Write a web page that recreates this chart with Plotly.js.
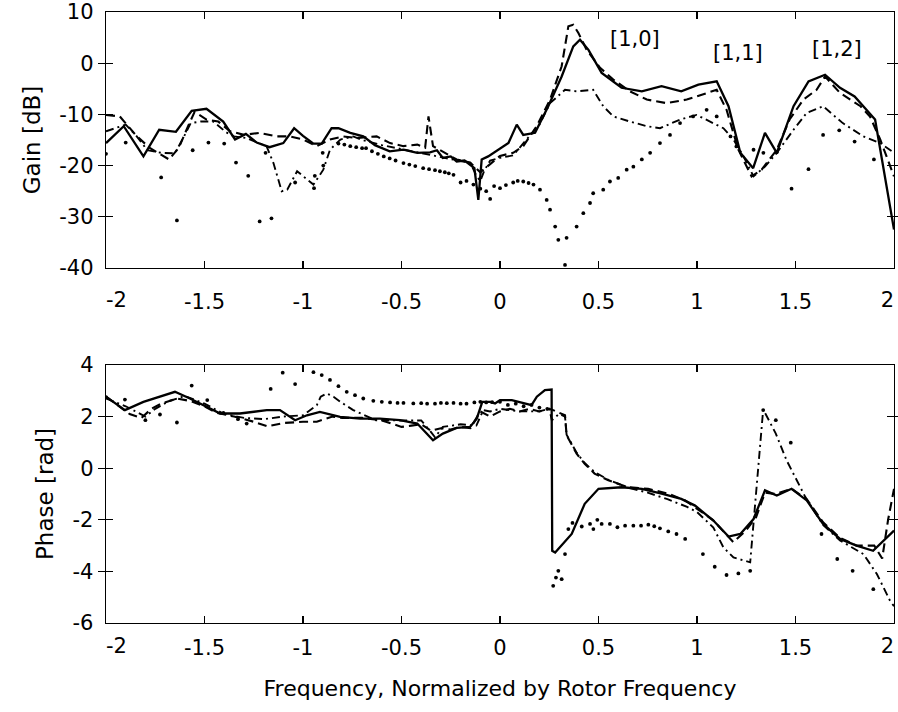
<!DOCTYPE html>
<html>
<head>
<meta charset="utf-8">
<script src="https://cdn.plot.ly/plotly-3.0.1.min.js"></script>
<style>html,body{margin:0;padding:0;background:#fff;}#chart{width:898px;height:712px;}</style>
</head>
<body>
<div id="chart"></div>
<script>
// ---------- Gain (top panel) ----------
const gainSolidX = [-2.0,-1.91,-1.81,-1.73,-1.645,-1.565,-1.49,-1.405,-1.345,-1.29,-1.235,-1.17,-1.10,-1.045,-1.0,-0.947,-0.905,-0.855,-0.82,-0.76,-0.694,-0.635,-0.56,-0.49,-0.42,-0.355,-0.32,-0.29,-0.25,-0.22,-0.18,-0.15,-0.13,-0.11,-0.093,-0.06,-0.025,0.025,0.043,0.085,0.118,0.178,0.245,0.313,0.372,0.406,0.449,0.516,0.617,0.72,0.82,0.92,1.007,1.10,1.16,1.22,1.285,1.345,1.405,1.49,1.566,1.65,1.726,1.80,1.904,2.0];
const gainSolidY = [-15.6,-12.3,-18.2,-13.0,-13.4,-9.3,-8.9,-11.4,-14.9,-13.8,-15.5,-16.4,-15.6,-12.7,-14.2,-15.7,-15.7,-12.7,-12.7,-13.6,-14.3,-16.0,-17.2,-16.9,-17.5,-17.4,-17.0,-18.5,-18.2,-19.2,-19.0,-19.8,-20.5,-26.7,-18.8,-18.2,-17.3,-16.1,-15.6,-12.0,-14.0,-13.6,-8.4,-2.6,3.3,4.6,2.6,-1.9,-4.8,-5.5,-4.5,-5.5,-4.2,-3.55,-8.4,-17.5,-20.5,-13.6,-17.5,-8.4,-3.55,-2.25,-4.8,-6.5,-11.0,-32.5];

const gainDashX = [-2.0,-1.93,-1.85,-1.78,-1.68,-1.63,-1.58,-1.55,-1.49,-1.43,-1.37,-1.30,-1.22,-1.134,-1.066,-1.0,-0.93,-0.863,-0.796,-0.728,-0.626,-0.558,-0.49,-0.42,-0.38,-0.363,-0.34,-0.29,-0.22,-0.152,-0.1,-0.05,0.0,0.067,0.118,0.186,0.254,0.313,0.347,0.372,0.398,0.44,0.508,0.575,0.66,0.745,0.846,0.948,1.015,1.10,1.15,1.21,1.277,1.328,1.405,1.47,1.54,1.607,1.65,1.726,1.83,1.878,1.93,2.0];
const gainDashY = [-10.1,-10.4,-14.0,-16.5,-18.8,-16.5,-12.0,-9.5,-11.0,-11.4,-13.3,-14.0,-13.6,-14.3,-14.3,-14.9,-16.2,-14.9,-14.3,-14.6,-14.3,-15.6,-16.2,-15.9,-16.5,-10.4,-16.2,-17.3,-18.8,-19.4,-21.3,-19.7,-18.1,-17.5,-16.2,-12.3,-7.1,-0.6,7.2,7.5,5.9,2.6,-0.9,-3.2,-5.5,-7.1,-7.8,-7.1,-6.2,-5.2,-9.1,-16.9,-22.1,-20.8,-16.9,-11.0,-7.1,-5.2,-2.6,-5.8,-8.4,-10.4,-14.9,-22.1];

const gainDashDotX = [-2.0,-1.9,-1.85,-1.79,-1.72,-1.65,-1.6,-1.57,-1.52,-1.455,-1.39,-1.35,-1.29,-1.185,-1.15,-1.108,-1.08,-1.03,-0.947,-0.897,-0.863,-0.81,-0.745,-0.7,-0.6,-0.5,-0.4,-0.3,-0.2,-0.15,-0.12,-0.1,-0.08,-0.05,0.0,0.067,0.135,0.2,0.254,0.33,0.389,0.473,0.524,0.575,0.66,0.745,0.812,0.914,0.998,1.066,1.134,1.185,1.236,1.287,1.345,1.405,1.49,1.557,1.64,1.74,1.845,1.93,2.0];
const gainDashDotY = [-13.3,-12.0,-14.0,-17.0,-17.5,-17.6,-14.0,-11.7,-11.4,-11.4,-13.5,-14.3,-14.6,-16.2,-19.5,-25.0,-24.7,-21.1,-23.7,-20.8,-16.9,-14.9,-14.3,-15.0,-16.0,-16.8,-17.5,-18.3,-19.2,-19.5,-22.0,-23.0,-21.0,-19.0,-18.5,-18.0,-14.9,-12.0,-7.8,-5.2,-5.5,-5.2,-8.4,-10.4,-11.4,-12.3,-12.7,-11.0,-10.1,-11.4,-12.7,-14.9,-18.2,-22.1,-20.2,-17.5,-13.0,-9.7,-8.4,-11.7,-14.3,-15.6,-17.5];

const gainDotX = [-2.0,-1.9,-1.72,-1.64,-1.56,-1.48,-1.40,-1.34,-1.278,-1.22,-1.19,-1.16,-1.04,-0.944,-0.94,-0.897,-0.9,-0.82,-0.79,-0.76,-0.73,-0.70,-0.68,-0.65,-0.62,-0.59,-0.56,-0.53,-0.49,-0.46,-0.43,-0.39,-0.36,-0.33,-0.305,-0.28,-0.26,-0.236,-0.2,-0.17,-0.135,-0.1,-0.07,-0.05,-0.03,0.0,0.03,0.067,0.09,0.118,0.145,0.17,0.203,0.237,0.254,0.28,0.296,0.33,0.338,0.389,0.423,0.457,0.473,0.524,0.558,0.6,0.643,0.677,0.72,0.762,0.812,0.863,0.914,0.98,1.049,1.1,1.17,1.2,1.287,1.337,1.405,1.48,1.566,1.64,1.722,1.80,1.898];
const gainDotY = [-17.7,-15.5,-22.3,-30.7,-17.0,-15.5,-15.7,-19.4,-22.0,-30.9,-17.5,-30.3,-23.3,-24.4,-22.0,-20.0,-17.5,-15.7,-15.9,-16.2,-16.4,-16.6,-16.6,-17.2,-17.7,-18.2,-18.6,-19.0,-19.5,-19.8,-20.1,-20.5,-20.7,-20.9,-21.1,-21.3,-21.5,-21.8,-23.3,-23.0,-23.7,-24.5,-25.0,-26.5,-24.0,-24.4,-23.8,-23.3,-23.0,-23.1,-23.4,-23.7,-24.7,-26.7,-28.6,-31.9,-34.5,-39.4,-34.1,-31.9,-29.3,-27.3,-25.4,-24.7,-23.1,-22.4,-20.8,-20.2,-18.8,-17.5,-15.6,-14.0,-11.7,-10.4,-9.1,-10.4,-14.3,-16.25,-16.9,-17.5,-17.4,-24.5,-20.7,-14.0,-13.1,-15.3,-18.8];

// ---------- Phase (bottom panel) ----------
const phaseSolidX = [-2.0,-1.904,-1.81,-1.71,-1.65,-1.574,-1.49,-1.42,-1.32,-1.184,-1.117,-1.04,-0.98,-0.914,-0.812,-0.71,-0.61,-0.508,-0.42,-0.37,-0.34,-0.29,-0.22,-0.152,-0.118,-0.09,-0.05,-0.025,0.0,0.06,0.16,0.187,0.228,0.262,0.265,0.28,0.364,0.43,0.5,0.617,0.72,0.82,0.92,0.99,1.083,1.16,1.22,1.287,1.345,1.405,1.48,1.557,1.64,1.726,1.81,1.894,1.946,2.0];
const phaseSolidY = [2.77,2.25,2.57,2.83,2.96,2.7,2.38,2.12,2.12,2.25,2.25,1.86,2.05,2.18,1.99,1.92,1.92,1.86,1.73,1.34,1.08,1.34,1.56,1.6,1.92,2.57,2.57,2.51,2.64,2.64,2.44,2.77,3.03,3.05,-3.2,-3.27,-2.55,-1.38,-0.8,-0.74,-0.8,-0.99,-1.19,-1.45,-2.03,-2.65,-2.55,-1.97,-0.86,-1.06,-0.8,-1.25,-2.16,-2.74,-3.0,-3.2,-2.81,-2.42];

const phaseDashX = [-2.0,-1.95,-1.88,-1.82,-1.77,-1.72,-1.64,-1.57,-1.5,-1.44,-1.35,-1.25,-1.18,-1.1,-1.0,-0.93,-0.85,-0.8,-0.7,-0.6,-0.5,-0.45,-0.4,-0.35,-0.3,-0.25,-0.2,-0.15,-0.1,-0.05,0.0,0.05,0.1,0.15,0.2,0.25,0.27,0.33,0.338,0.389,0.43,0.48,0.55,0.651,0.752,0.854,0.94,1.08,1.15,1.185,1.25,1.3,1.345,1.4,1.48,1.557,1.64,1.726,1.81,1.9,1.94,1.97,2.0];
const phaseDashY = [2.77,2.5,2.1,1.95,2.3,2.5,2.7,2.6,2.4,2.15,2.0,1.8,1.62,1.75,1.8,1.8,2.0,1.95,1.95,1.85,1.6,1.65,1.7,1.45,1.55,1.5,1.6,1.55,2.2,2.0,2.2,2.3,2.2,2.3,2.2,2.3,2.25,2.05,1.28,0.56,0.17,-0.21,-0.47,-0.74,-0.8,-0.99,-1.25,-2.0,-2.6,-2.87,-2.4,-1.9,-0.95,-1.0,-0.8,-1.2,-2.1,-2.7,-3.0,-3.0,-3.5,-2.0,-0.8];

const phaseDashDotX = [-2.0,-1.9,-1.85,-1.8,-1.75,-1.68,-1.6,-1.5,-1.4,-1.3,-1.2,-1.1,-1.0,-0.93,-0.91,-0.88,-0.845,-0.81,-0.745,-0.69,-0.63,-0.5,-0.4,-0.35,-0.33,-0.29,-0.2,-0.12,-0.085,-0.05,0.0,0.1,0.2,0.25,0.263,0.3,0.33,0.338,0.389,0.43,0.48,0.55,0.65,0.75,0.85,0.95,1.0,1.083,1.134,1.185,1.27,1.336,1.4,1.455,1.506,1.55,1.64,1.726,1.845,1.913,1.98,2.0];
const phaseDashDotY = [2.7,2.4,2.2,2.0,2.3,2.6,2.8,2.5,2.1,1.95,1.9,2.0,2.05,2.44,2.77,2.9,2.77,2.57,2.25,2.05,1.86,1.85,1.85,1.4,1.2,1.6,1.7,1.65,2.25,2.2,2.3,2.2,2.2,2.3,1.86,2.1,2.0,1.3,0.6,0.2,-0.15,-0.45,-0.75,-0.95,-1.2,-1.5,-1.7,-2.3,-3.07,-3.46,-3.65,2.28,1.34,0.3,-0.47,-1.12,-2.2,-2.8,-3.33,-4.1,-5.14,-5.35];

const phaseDotX = [-2.0,-1.904,-1.8,-1.726,-1.64,-1.565,-1.486,-1.404,-1.33,-1.286,-1.164,-1.103,-1.04,-0.947,-0.905,-0.863,-0.82,-0.778,-0.736,-0.694,-0.643,-0.6,-0.558,-0.52,-0.49,-0.44,-0.4,-0.37,-0.33,-0.3,-0.27,-0.236,-0.2,-0.17,-0.13,-0.1,-0.07,-0.04,0.0,0.04,0.08,0.12,0.16,0.2,0.24,0.27,0.284,0.296,0.313,0.33,0.347,0.368,0.415,0.457,0.474,0.494,0.516,0.558,0.596,0.635,0.677,0.716,0.753,0.783,0.812,0.854,0.896,0.94,1.03,1.09,1.15,1.21,1.27,1.336,1.40,1.476,1.632,1.712,1.79,1.895];
const phaseDotY = [2.75,2.66,1.86,2.08,1.77,3.2,2.64,2.14,1.9,1.73,3.07,3.7,3.26,3.72,3.61,3.42,3.18,2.96,2.83,2.7,2.61,2.57,2.55,2.53,2.53,2.51,2.52,2.5,2.5,2.53,2.52,2.53,2.5,2.5,2.55,2.57,2.55,2.56,2.57,2.45,2.5,2.4,2.45,2.35,2.3,-4.56,-4.24,-3.98,-4.3,-3.33,-2.36,-2.12,-2.26,-2.16,-2.36,-2.0,-2.16,-2.16,-2.29,-2.23,-2.23,-2.23,-2.19,-2.25,-2.33,-2.45,-2.55,-2.74,-3.33,-3.82,-4.14,-4.08,-3.98,2.25,1.86,0.99,-2.55,-3.52,-3.98,-4.69];

// ---------- Ticks and labels ----------
const xTickVals = [-2,-1.5,-1,-0.5,0,0.5,1,1.5,2];
const xTickText = ["","-1.5","-1","-0.5","0","0.5","1","1.5",""];
const xLeftTickVals = [-2];
const xLeftTickText = ["-2"];
const xRightTickVals = [2];
const xRightTickText = ["2"];
const gainTickVals = [10,0,-10,-20,-30,-40];
const gainTickText = ["10","0","-10","-20","-30","-40"];
const phaseTickVals = [4,2,0,-2,-4,-6];
const phaseTickText = ["4","2","0","-2","-4","-6"];
const modeLabels = ["[1,0]","[1,1]","[1,2]"];
const modeLabelX = [0.685,1.21,1.71];
const modeLabelY = [4.8,2.05,2.8];

const FONT = "DejaVu Sans, Liberation Sans, Arial, sans-serif";
const black = "#000";

function lineTrace(x, y, dash, width, xa, ya) {
  return {x: x, y: y, type: "scatter", mode: "lines", xaxis: xa, yaxis: ya,
          line: {color: black, width: width, dash: dash}, hoverinfo: "skip", showlegend: false};
}
function dotTrace(x, y, xa, ya) {
  return {x: x, y: y, type: "scatter", mode: "markers", xaxis: xa, yaxis: ya,
          marker: {color: black, size: 3.8}, hoverinfo: "skip", showlegend: false};
}
function emptyTrace(xa, ya) {
  return {x: [], y: [], type: "scatter", mode: "lines", xaxis: xa, yaxis: ya,
          hoverinfo: "skip", showlegend: false};
}

const DASH = "9px,5px";
const DASHDOT = "8px,4px,2px,4px";

const data = [
  lineTrace(gainSolidX, gainSolidY, "solid", 2.3, "x", "y"),
  lineTrace(gainDashX, gainDashY, DASH, 2.1, "x", "y"),
  lineTrace(gainDashDotX, gainDashDotY, DASHDOT, 1.9, "x", "y"),
  dotTrace(gainDotX, gainDotY, "x", "y"),
  lineTrace(phaseSolidX, phaseSolidY, "solid", 2.3, "x2", "y2"),
  lineTrace(phaseDashX, phaseDashY, DASH, 2.1, "x2", "y2"),
  lineTrace(phaseDashDotX, phaseDashDotY, DASHDOT, 1.9, "x2", "y2"),
  dotTrace(phaseDotX, phaseDotY, "x2", "y2"),
  emptyTrace("x3", "y"), emptyTrace("x4", "y"),
  emptyTrace("x5", "y2"), emptyTrace("x6", "y2")
];

const tickFont = {family: FONT, size: 21, color: black};
const axisCommon = {
  showgrid: false, zeroline: false, showline: true, linecolor: black, linewidth: 1.3,
  mirror: "allticks", ticks: "inside", ticklen: 7, tickwidth: 1.2, tickcolor: black,
  tickmode: "array", tickfont: tickFont
};
function edgeAxis(over, anchor, vals, text, pos, standoff) {
  return {overlaying: over, anchor: anchor, side: "bottom", range: [-2, 2],
    showgrid: false, zeroline: false, showline: false, ticks: "",
    tickmode: "array", tickvals: vals, ticktext: text, tickfont: tickFont,
    ticklabelposition: pos, ticklabelstandoff: standoff};
}

const layout = {
  width: 898, height: 712,
  margin: {l: 106, r: 4, t: 12, b: 89},
  paper_bgcolor: "#fff", plot_bgcolor: "#fff",
  font: {family: FONT, color: black},
  xaxis: Object.assign({}, axisCommon, {domain: [0, 1], range: [-2, 2], anchor: "y",
    tickvals: xTickVals, ticktext: xTickText, ticklabelstandoff: 14}),
  xaxis3: edgeAxis("x", "y", xLeftTickVals, xLeftTickText, "outside right", 17),
  xaxis4: edgeAxis("x", "y", xRightTickVals, xRightTickText, "outside left", 17),
  yaxis: Object.assign({}, axisCommon, {domain: [0.581, 1], range: [-40, 10], anchor: "x",
    tickvals: gainTickVals, ticktext: gainTickText, ticklabelstandoff: 7,
    title: {text: "Gain [dB]", font: {family: FONT, size: 23, color: black}, standoff: 12}}),
  xaxis2: Object.assign({}, axisCommon, {domain: [0, 1], range: [-2, 2], anchor: "y2",
    tickvals: xTickVals, ticktext: xTickText, ticklabelstandoff: 5,
    title: {text: "Frequency, Normalized by Rotor Frequency", font: {family: FONT, size: 22, color: black}, standoff: 22}}),
  xaxis5: edgeAxis("x2", "y2", xLeftTickVals, xLeftTickText, "outside right", 8),
  xaxis6: edgeAxis("x2", "y2", xRightTickVals, xRightTickText, "outside left", 8),
  yaxis2: Object.assign({}, axisCommon, {domain: [0, 0.4223], range: [-6, 4], anchor: "x2",
    tickvals: phaseTickVals, ticktext: phaseTickText, ticklabelstandoff: 7,
    title: {text: "Phase [rad]", font: {family: FONT, size: 23, color: black}, standoff: 12}}),
  annotations: modeLabels.map((t, i) => ({
    text: t, x: modeLabelX[i], y: modeLabelY[i], xref: "x", yref: "y",
    showarrow: false, font: {family: FONT, size: 21, color: black}
  }))
};

Plotly.newPlot("chart", data, layout, {staticPlot: true, displayModeBar: false});
</script>
</body>
</html>
